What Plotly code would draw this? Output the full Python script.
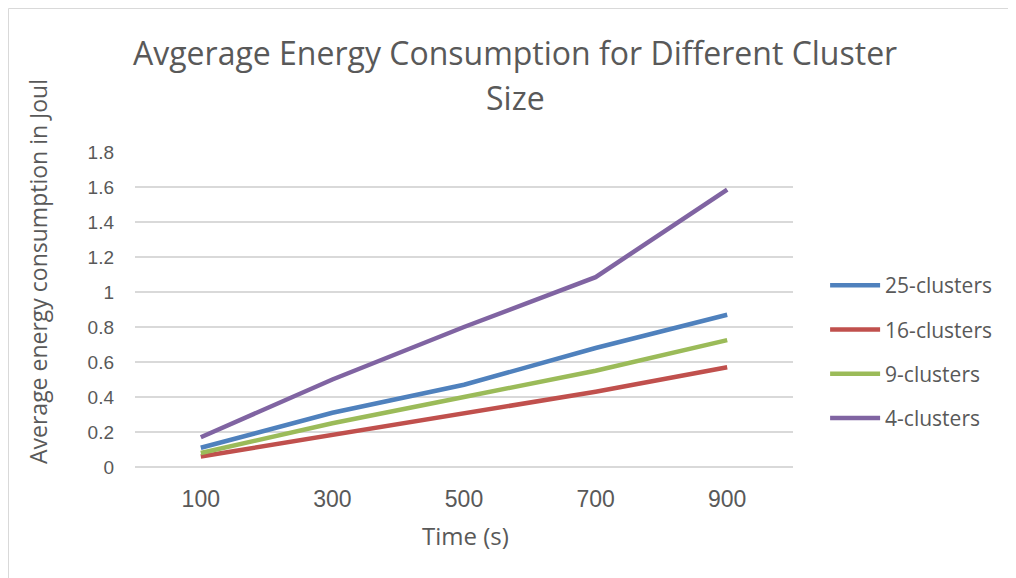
import plotly.graph_objects as go

times = ["100", "300", "500", "700", "900"]
series_names = ["25-clusters", "16-clusters", "9-clusters", "4-clusters"]
v25 = [0.11, 0.31, 0.47, 0.68, 0.87]
v16 = [0.06, 0.185, 0.31, 0.43, 0.57]
v9 = [0.08, 0.25, 0.40, 0.55, 0.725]
v4 = [0.17, 0.50, 0.80, 1.085, 1.585]
y_ticks = [0, 0.2, 0.4, 0.6, 0.8, 1, 1.2, 1.4, 1.6, 1.8]

colors = ["#4F81BD", "#C0504D", "#9BBB59", "#8064A2"]
TEXTFONT = "Open Sans"
NUMFONT = "Liberation Sans"
GRAY = "#595959"

# plot area in screen pixels (page has an 8px body margin)
PL, PR, PT, PB = 135, 793, 152, 467
OFF = 8
PW, PH = PR - PL, PB - PT

def px(x):
    return (x - PL) / PW

def py(y):
    return (PB - y) / PH

fig = go.Figure()
for i, (name, vals) in enumerate(zip(series_names, [v25, v16, v9, v4])):
    fig.add_trace(go.Scatter(
        x=times, y=vals, mode="lines", name=name,
        legendgroup=name,
        line=dict(color=colors[i], width=4.5),
    ))

fig.update_layout(
    width=1016, height=578,
    paper_bgcolor="white", plot_bgcolor="white",
    margin=dict(l=PL - OFF, r=1016 - (PR - OFF), t=PT - OFF, b=578 - (PB - OFF)),
    font=dict(family=TEXTFONT, color=GRAY, size=18),
    showlegend=True,
    legend=dict(
        x=px(833) - 0.012, xanchor="left", y=py(352), yanchor="middle",
        font=dict(size=21, color=GRAY, family=TEXTFONT),
        tracegroupgap=14, itemwidth=50,
        bgcolor="rgba(0,0,0,0)",
    ),
    xaxis=dict(
        type="category", range=[-0.5, 4.5],
        showgrid=False, showline=False, zeroline=False,
        ticks="", tickfont=dict(size=23, color=GRAY, family=NUMFONT),
        ticklabelstandoff=16,
    ),
    yaxis=dict(
        range=[0, 1.8], tickvals=y_ticks,
        ticktext=[("%g" % t) for t in y_ticks],
        showgrid=True, gridcolor="#D9D9D9", gridwidth=1.5,
        zeroline=True, zerolinecolor="#D9D9D9", zerolinewidth=1.5,
        showline=False, ticks="",
        tickfont=dict(size=19, color=GRAY, family=NUMFONT),
        ticklabelstandoff=20,
    ),
    annotations=[
        dict(text="Avgerage Energy Consumption for Different Cluster",
             xref="paper", yref="paper", x=px(515), y=py(52),
             xanchor="center", yanchor="middle", showarrow=False,
             font=dict(size=32, color=GRAY, family=TEXTFONT)),
        dict(text="Size",
             xref="paper", yref="paper", x=px(515), y=py(98),
             xanchor="center", yanchor="middle", showarrow=False,
             font=dict(size=32, color=GRAY, family=TEXTFONT)),
        dict(text="Time (s)",
             xref="paper", yref="paper", x=px(465), y=py(535),
             xanchor="center", yanchor="middle", showarrow=False,
             font=dict(size=24, color=GRAY, family=TEXTFONT)),
        dict(text="Average energy consumption in Joul",
             xref="paper", yref="paper", x=px(38), y=py(272),
             xanchor="center", yanchor="middle", showarrow=False, textangle=-90,
             font=dict(size=23, color=GRAY, family=TEXTFONT)),
    ],
    shapes=[
        dict(type="rect", xref="paper", yref="paper",
             x0=px(8.5), x1=px(1040),
             y0=py(600), y1=py(8.5),
             line=dict(color="#D9D9D9", width=1), fillcolor="rgba(0,0,0,0)",
             layer="below"),
    ],
)

fig.write_html("out.html")
